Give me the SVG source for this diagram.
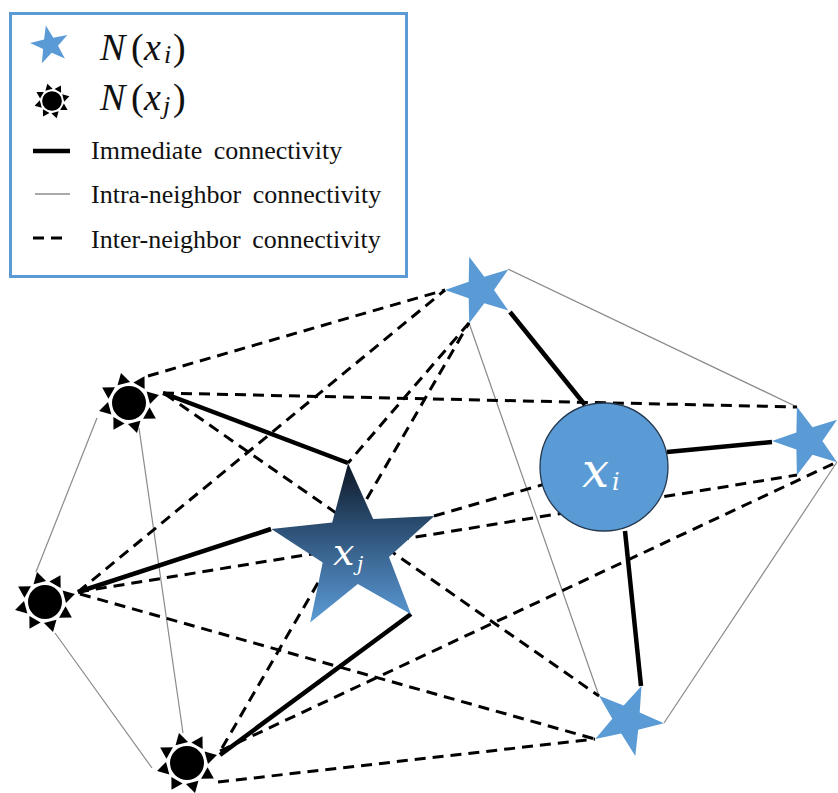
<svg xmlns="http://www.w3.org/2000/svg" xmlns:xlink="http://www.w3.org/1999/xlink" width="838" height="793" viewBox="0 0 838 793">
<style>
.thick{stroke:#000;stroke-width:4.5;fill:none;stroke-linecap:butt}
.thin{stroke:#8a8a8a;stroke-width:1.2;fill:none}
.dash{stroke:#000;stroke-width:3;fill:none;stroke-dasharray:11 7}
.star{fill:#5b9bd5;stroke:none}
.math{font-family:"Liberation Serif","DejaVu Serif",serif;font-style:italic}
.nmath{font-family:"DejaVu Serif","Liberation Serif",serif;font-style:italic;fill:#fff}
.lbl{font-family:"Liberation Serif","DejaVu Serif",serif;font-size:26px;fill:#111;word-spacing:5px}
</style>
<defs>
<linearGradient id="gradXj" x1="0" y1="0" x2="0" y2="1">
<stop offset="0" stop-color="#0d1726"/>
<stop offset="0.4" stop-color="#2c4f73"/>
<stop offset="0.72" stop-color="#4678aa"/>
<stop offset="1" stop-color="#5b9bd5"/>
</linearGradient>
<g id="sun">
<circle r="17" fill="#000"/>
<polygon points="20,-6.5 31,0 20,6.5" fill="#000" transform="rotate(-15)"/>
<polygon points="20,-6.5 31,0 20,6.5" fill="#000" transform="rotate(30)"/>
<polygon points="20,-6.5 31,0 20,6.5" fill="#000" transform="rotate(75)"/>
<polygon points="20,-6.5 31,0 20,6.5" fill="#000" transform="rotate(120)"/>
<polygon points="20,-6.5 31,0 20,6.5" fill="#000" transform="rotate(165)"/>
<polygon points="20,-6.5 31,0 20,6.5" fill="#000" transform="rotate(210)"/>
<polygon points="20,-6.5 31,0 20,6.5" fill="#000" transform="rotate(255)"/>
<polygon points="20,-6.5 31,0 20,6.5" fill="#000" transform="rotate(300)"/>
</g>
</defs>
<rect width="838" height="793" fill="#fff"/>

<g id="legend">
<rect x="10.5" y="13.5" width="396" height="263" fill="#fff" stroke="#5b9bd5" stroke-width="3"/>
<polygon class="star" points="45.8,25.4 53.3,37.7 67.3,35 58,45.8 64.9,58.4 51.7,52.8 41.9,63.3 43.1,49 30.1,42.9 44.1,39.6"/>
<text class="math" font-size="38" y="60" fill="#111"><tspan x="100">N</tspan><tspan x="131" font-style="normal">(</tspan><tspan x="144">x</tspan><tspan x="164" font-size="26" dy="3">i</tspan><tspan x="173" dy="-3" font-style="normal">)</tspan></text>
<use xlink:href="#sun" href="#sun" transform="translate(52,101) scale(0.58)"/>
<text class="math" font-size="38" y="110" fill="#111"><tspan x="100">N</tspan><tspan x="131" font-style="normal">(</tspan><tspan x="144">x</tspan><tspan x="163" font-size="26" dy="4">j</tspan><tspan x="173" dy="-4" font-style="normal">)</tspan></text>
<line class="thick" x1="33" y1="151" x2="70" y2="151"/>
<text class="lbl" x="91" y="159">Immediate connectivity</text>
<line x1="35" y1="194" x2="70" y2="194" stroke="#555" stroke-width="1.2"/>
<text class="lbl" x="91" y="203">Intra-neighbor connectivity</text>
<line class="dash" x1="33" y1="238" x2="64" y2="238" stroke-dasharray="12 7"/>
<text class="lbl" x="91" y="248">Inter-neighbor connectivity</text>
</g>

<g id="connectors">
<line class="thin" x1="508" y1="269" x2="797" y2="407"/>
<line class="thin" x1="469" y1="323" x2="599" y2="696"/>
<line class="thin" x1="837" y1="462" x2="664" y2="723"/>
<line class="thin" x1="97" y1="418" x2="36" y2="572"/>
<line class="thin" x1="55" y1="633" x2="152" y2="768" stroke="#444"/>
<line class="thin" x1="139" y1="428" x2="183" y2="733"/>
<line class="dash" x1="148" y1="376" x2="445" y2="290"/>
<line class="dash" x1="163" y1="393" x2="797" y2="407"/>
<line class="dash" x1="165" y1="394" x2="599" y2="696"/>
<line class="dash" x1="78" y1="592" x2="445" y2="290"/>
<line class="dash" x1="78" y1="592" x2="797" y2="475"/>
<line class="dash" x1="80" y1="594" x2="595" y2="739"/>
<line class="dash" x1="222" y1="748" x2="469" y2="323"/>
<line class="dash" x1="220" y1="751" x2="837" y2="462"/>
<line class="dash" x1="218" y1="782" x2="595" y2="739"/>
<line class="dash" x1="469" y1="323" x2="348" y2="463"/>
<line class="dash" x1="434" y1="516" x2="604" y2="467"/>
<line class="thick" x1="510" y1="312" x2="585" y2="405"/>
<line class="thick" x1="667" y1="452" x2="772" y2="442"/>
<line class="thick" x1="625" y1="531" x2="641" y2="686"/>
<line class="thick" x1="163" y1="393" x2="348" y2="463"/>
<line class="thick" x1="78" y1="592" x2="271" y2="529"/>
<line class="thick" x1="220" y1="755" x2="411" y2="614"/>
</g>

<g id="star-top">
<polygon class="star" points="469.2,256.7 484.3,276.7 508.3,269.4 494,290 508.3,310.6 484.3,303.3 469.2,323.3 468.7,298.2 445,290 468.7,281.8"/>
</g>
<g id="star-right">
<polygon class="star" points="796.9,406.8 812.5,427.3 837.1,419.8 822.4,441 837.1,462.2 812.5,454.7 796.9,475.2 796.4,449.5 772,441 796.4,432.5"/>
</g>
<g id="star-bottom">
<polygon class="star" points="641.5,685.9 639.7,712.4 663.9,723.2 638.2,729.7 635.3,756.1 621.2,733.6 595.3,739.1 612.3,718.7 599.1,695.7 623.7,705.6"/>
</g>
<g id="sun-1"><use xlink:href="#sun" href="#sun" transform="translate(129,403)"/></g>
<g id="sun-2"><use xlink:href="#sun" href="#sun" transform="translate(45,602)"/></g>
<g id="sun-3"><use xlink:href="#sun" href="#sun" transform="translate(187,763)"/></g>

<g id="node-xi">
<circle cx="604" cy="467" r="64" fill="#5b9bd5" stroke="#23384f" stroke-width="1.3"/>
<text class="nmath" font-size="48" x="582" y="487">x</text>
<text class="nmath" font-size="24" x="612" y="490">i</text>
</g>
<g id="node-xj">
<polygon points="348.1,463.3 373.2,519.1 434.4,516 389,557.1 411,614.3 357.8,583.9 310.2,622.4 322.7,562.4 271.3,529 332.2,522.4" fill="url(#gradXj)"/>
<text class="nmath" font-size="38" x="333" y="565">x</text>
<text class="nmath" font-size="20" x="357" y="571">j</text>
</g>
</svg>
